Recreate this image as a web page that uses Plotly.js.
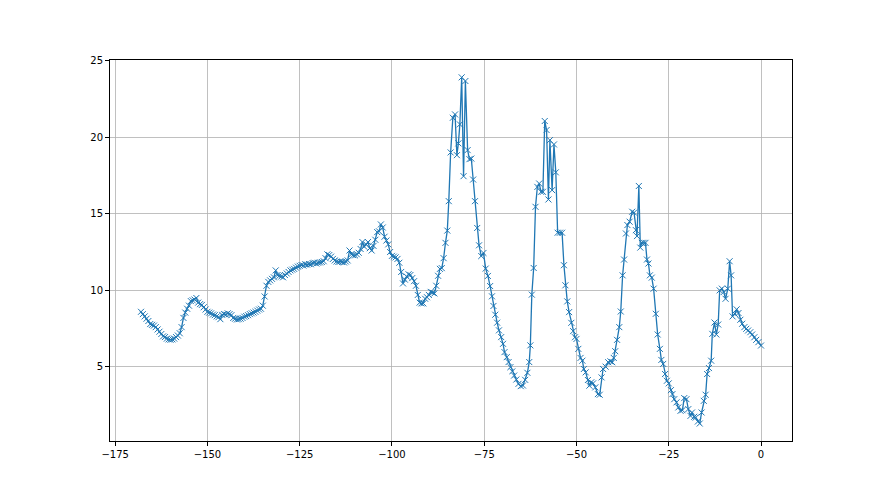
<!DOCTYPE html>
<html>
<head>
<meta charset="utf-8">
<script src="https://cdn.plot.ly/plotly-3.0.1.min.js"></script>
<style>html,body{margin:0;padding:0;background:#fff;}#chart{width:880px;height:495px;}</style>
</head>
<body>
<div id="chart"></div>
<script>
// x positions
const xLeft = [
-168,-167.5,-167,-166.5,-166,-165.5,-165,-164.5,-164,-163.5,-163,-162.5,-162,-161.5,-161,-160.5,-160,-159.5,-159,-158.5,-158,-157.5,-157,-156.5,-156,-155.5,-155,-154.5,-154,-153.5,-153,-152.5,-152,-151.5,-151,-150.5,-150,
-149.5,-149,-148.5,-148,-147.5,-147,-146.5,-146,-145.5,-145,-144.5,-144,-143.5,-143,-142.5,-142,-141.5,-141,-140.5,-140,-139.5,-139,-138.5,-138,-137.5,-137,-136.5,-136,-135.5,-135,
-134.5,-134,-133.5,-133,-132.5,-132,-131.5,-131,-130.5,-130,-129.5,-129,-128.5,-128,-127.5,-127,-126.5,-126,-125.5,-125,-124.5,-124,-123.5,-123,-122.5,-122,-121.5,-121,-120.5,-120,-119.5,-119,-118.5,-118,-117.5,-117,-116.5,-116,-115.5,-115,-114.5,-114,-113.5,-113,-112.5,-112,-111.5,-111,-110.5,-110,
-109.5,-109,-108.5,-108,-107.5,-107,-106.5,-106,-105.5,-105,-104.5,-104,-103.5,-103,-102.5,-102,-101.5,-101,-100.5,-100,-99.5,-99,-98.5,-98,-97.5,-97,-96.5,-96,-95.5,-95,-94.5,-94,-93.5,-93,-92.5,-92,-91.5,-91,-90.5,-90,-89.5,-89,-88.5,-88,-87.5,-87,-86.5,-86,-85.5,-85
];
const yLeft = [
8.6,8.45,8.3,8.15,8.0,7.8,7.75,7.7,7.6,7.45,7.3,7.15,7.0,6.95,6.85,6.8,6.78,6.8,6.85,6.95,7.05,7.2,7.6,8.2,8.55,8.8,9.0,9.3,9.35,9.4,9.5,9.2,9.1,9.05,8.9,8.75,8.6,
8.55,8.5,8.42,8.38,8.3,8.25,8.12,8.4,8.45,8.42,8.5,8.45,8.38,8.2,8.15,8.1,8.12,8.15,8.2,8.28,8.32,8.38,8.45,8.5,8.55,8.6,8.68,8.75,8.8,9.0,
9.6,10.3,10.55,10.65,10.75,10.85,11.3,11.0,10.95,10.9,10.85,11.0,11.1,11.2,11.3,11.35,11.4,11.48,11.55,11.6,11.65,11.62,11.7,11.68,11.72,11.7,11.78,11.8,11.75,11.8,11.82,11.85,11.9,12.1,12.35,12.3,12.2,12.05,11.95,11.88,11.85,11.88,11.85,11.82,11.88,11.95,12.6,12.35,12.3,12.28,
12.35,12.45,12.7,13.15,12.85,13.0,13.15,12.75,12.6,12.9,13.3,13.8,13.85,14.3,14.1,13.5,13.25,13.0,12.5,12.25,12.2,12.15,12.05,11.8,11.2,10.45,10.7,10.9,11.05,11.0,10.8,10.6,10.3,9.7,9.2,9.15,9.15,9.45,9.55,9.7,9.9,9.85,9.8,10.3,10.95,11.4,11.45,12.1,13.1,13.9
];
const xRight = [
-84.6,-84.1,-83.5,-82.9,-82.4,-82.0,-81.6,-81.1,-80.6,-80.1,-79.5,-79.0,-78.5,-78.0,-77.5,-76.9,-76.4,-75.8,-75.2,-74.6,-74.0,-73.4,-72.9,-72.5,-72.0,-71.5,-71.0,-70.4,-69.9,-69.5,-68.9,-68.4,-67.9,-67.4,-66.9,-66.3,-65.7,-65.1,-64.5,-63.9,-63.3,-62.8,-62.5,-62.1,-61.6,-61.1,-60.6,-60.1,-59.6,-59.1,-58.6,-58.1,-57.6,-57.2,-56.6,-56.1,-55.6,-55.1,-54.5,-53.9,-53.4,-53.0,-52.5,-52.0,-51.4,-50.9,-50.4,-50.0,-49.5,-48.9,-48.4,-48.0,-47.5,-46.9,-46.5,-46.0,-45.5,-44.9,-44.2,-43.7,-43.2,-42.8,-42.1,-41.4,-40.8,-40.3,-39.9,-39.5,-39.0,-38.4,-38.0,-37.5,-37.1,-36.6,-36.2,-35.6,-34.9,-34.4,-33.9,-33.6,-33.1,-32.7,-32.3,-31.8,-31.3,-30.9,-30.5,-30.1,-29.6,-29.1,-28.5,-28.0,-27.4,-27.0,-26.5,-26.0,-25.5,-25.0,-24.4,-24.0,-23.5,-22.9,-22.4,-21.8,-21.3,-20.8,-20.2,-19.7,-19.1,-18.7,-18.1,-17.7,-17.1,-16.6,-16.1,-15.5,-15.0,-14.6,-14.1,-13.5,-13.2,-12.6,-12.1,-11.6,-11.2,-10.6,-10.1,-9.6,-9.0,-8.5,-8.1,-7.7,-7.1,-6.6,-6.1,-5.6,-5.1,-4.5,-4.0,-3.5,-2.9,-2.4,-1.8,-1.3,-0.7,0
];
const yRight = [
15.82,19.0,21.26,21.48,18.82,19.59,20.83,23.9,17.45,23.66,19.15,18.56,18.6,17.23,15.82,14.07,12.94,12.24,12.44,11.42,10.94,10.28,9.61,8.98,8.41,7.89,7.39,6.95,6.51,5.97,5.64,5.32,4.99,4.71,4.44,4.18,3.9,3.75,3.79,4.16,4.62,5.32,6.41,9.72,11.46,15.45,16.75,16.97,16.43,16.43,21.05,20.46,15.93,19.8,16.54,19.52,17.7,13.76,13.76,13.76,11.64,10.33,9.28,8.58,7.88,7.34,6.94,6.83,6.18,5.59,5.41,4.87,4.65,4.15,3.78,4.0,3.93,3.67,3.23,3.19,4.32,4.87,5.02,5.31,5.37,5.31,5.59,6.03,6.77,7.6,8.62,10.98,12.01,13.71,14.26,14.48,15.13,15.07,13.93,13.54,16.81,12.79,13.1,13.1,13.1,12.01,11.75,10.98,10.83,10.11,8.47,7.12,6.18,5.46,5.2,4.54,4.1,3.93,3.49,3.23,2.9,2.69,2.36,2.14,2.18,2.97,2.9,2.25,1.81,2.03,1.75,1.7,1.44,1.31,2.03,2.79,3.19,4.54,4.93,5.41,7.16,7.9,7.12,7.77,10.0,10.11,9.89,9.45,10.11,11.9,10.98,8.3,8.47,8.76,8.52,8.08,7.82,7.6,7.49,7.38,7.27,7.12,6.94,6.77,6.62,6.4
];
const xTicks = [-175,-150,-125,-100,-75,-50,-25,0];
const yTicks = [5,10,15,20,25];

const xs = xLeft.concat(xRight);
const ys = yLeft.concat(yRight);

const trace = {
  x: xs, y: ys, type: 'scatter', mode: 'lines+markers',
  line: {color: '#1f77b4', width: 1.3},
  marker: {symbol: 'x-thin-open', size: 6, color: '#1f77b4', line: {color: '#1f77b4', width: 1}},
  hoverinfo: 'skip', showlegend: false
};

const axisCommon = {
  showline: true, mirror: true, linecolor: '#000', linewidth: 1,
  ticks: 'outside', ticklen: 4, tickwidth: 1, tickcolor: '#000',
  showgrid: true, gridcolor: '#b0b0b0', gridwidth: 0.8,
  zeroline: false, tickmode: 'array',
  tickfont: {family: 'DejaVu Sans', size: 10, color: '#000'}
};

const layout = {
  width: 880, height: 495,
  margin: {l: 110, r: 88, t: 60, b: 54, pad: 0},
  paper_bgcolor: '#fff', plot_bgcolor: '#fff',
  xaxis: Object.assign({}, axisCommon, {range: [-176.4, 8.4], tickvals: xTicks, ticktext: xTicks.map(v => v < 0 ? '\u2212' + Math.abs(v) : String(v))}),
  yaxis: Object.assign({}, axisCommon, {range: [0.17, 25.03], tickvals: yTicks, ticktext: yTicks.map(String)})
};

Plotly.newPlot('chart', [trace], layout, {displayModeBar: false, staticPlot: true});
</script>
</body>
</html>
